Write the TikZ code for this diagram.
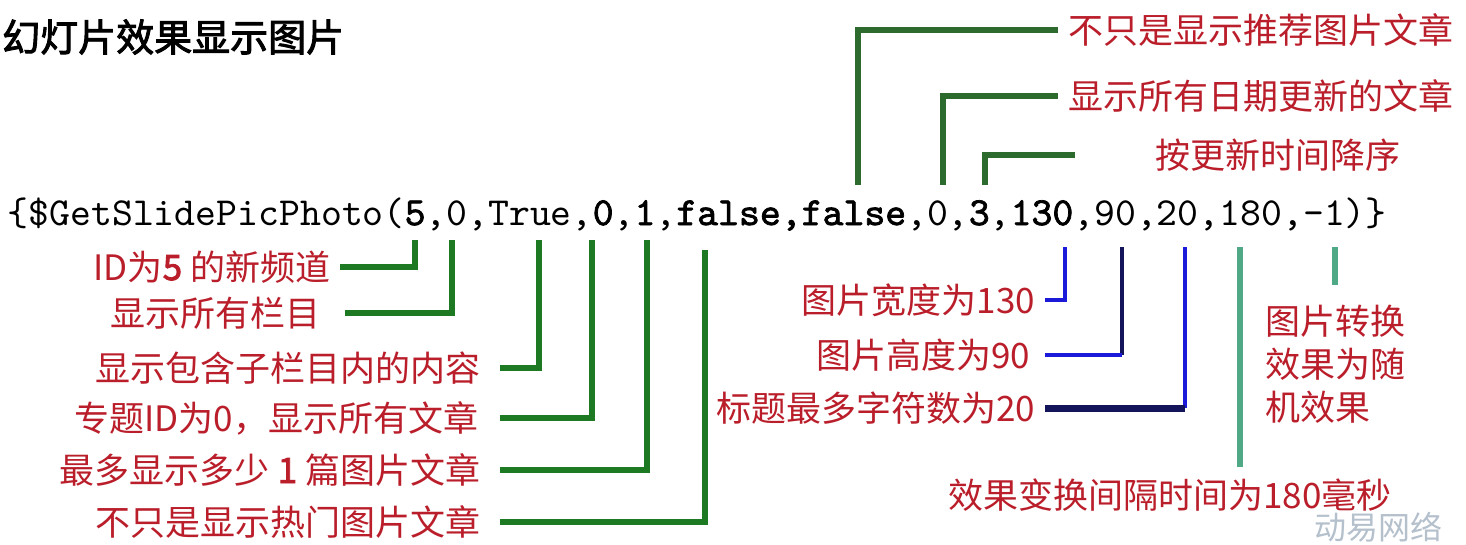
\documentclass[tikz,border=0pt]{standalone}
\usepackage{fontspec}
\newfontfamily\codefont{lmmono10-regular}[Extension=.otf]
\newfontfamily\codebold{lmmono10-regular}[Extension=.otf, FakeBold=1.8]
\newfontfamily\cjk{Noto Sans CJK SC}
\newfontfamily\cjkbold[FakeBold=2.5]{Noto Sans CJK SC}
\definecolor{lblred}{HTML}{BA1E2A}
\definecolor{gbot}{HTML}{1E7A22}
\definecolor{gtop}{HTML}{2C6A2E}
\definecolor{lblue}{HTML}{1A1AD8}
\definecolor{lnavy}{HTML}{14145A}
\definecolor{lteal}{HTML}{4FA886}
\definecolor{wmark}{HTML}{B4C0CC}
\tikzset{
  lbl/.style={inner sep=0pt, text=lblred, font=\cjk\fontsize{35}{43}\selectfont, text height=29pt, text depth=3pt},
  gline/.style={draw=gbot, line width=5.5pt},
  tline/.style={draw=gtop, line width=5.5pt},
  bline/.style={draw=lblue, line width=3.5pt},
  nline/.style={draw=lnavy, line width=5pt},
  teline/.style={draw=lteal, line width=5.5pt}
}
\begin{document}
\begin{tikzpicture}[x=1pt,y=-1pt]
\useasboundingbox[fill=white] (0,0) rectangle (1466,544);

% title
\node[anchor=west, inner sep=0pt, font=\cjkbold\fontsize{38}{40}\selectfont] (title) at (2,37) {幻灯片效果显示图片};

% code line
\node[anchor=west, inner sep=0pt, font=\codefont\fontsize{39.8}{44}\selectfont] (code) at (7.5,214)
  {\{\$GetSlidePicPhoto({\codebold 5},0,True,{\codebold 0},{\codebold 1},{\codebold false,false},0,{\codebold 3},{\codebold 130},90,20,180,-1)\}};

% attachment points under/above the parameters
\coordinate (p5) at (415,240);
\coordinate (p0a) at (452,240);
\coordinate (ptrue) at (539,240);
\coordinate (p0b) at (592,240);
\coordinate (p1) at (647,240);
\coordinate (pfa) at (705,250);
\coordinate (pfb) at (858,185);
\coordinate (p0c) at (943,185);
\coordinate (p3) at (985,185);
\coordinate (p130) at (1065,247);
\coordinate (p90) at (1122,247);
\coordinate (p20) at (1185,247);
\coordinate (p180) at (1240,247);
\coordinate (pm1) at (1335,247);

% bottom-left labels
\node[lbl, anchor=east, outer xsep=10pt] (l1) at (340,267) {ID为{\cjkbold 5} 的新频道};
\node[lbl, anchor=east, outer xsep=25pt] (l2) at (345,313) {显示所有栏目};
\node[lbl, anchor=east, outer xsep=20pt] (l3) at (500,368) {显示包含子栏目内的内容};
\node[lbl, anchor=east, outer xsep=22pt] (l4) at (500,418) {专题ID为0，显示所有文章};
\node[lbl, anchor=east, outer xsep=20pt] (l5) at (500,470) {最多显示多少 {\cjkbold 1} 篇图片文章};
\node[lbl, anchor=east, outer xsep=20pt] (l6) at (500,522) {不只是显示热门图片文章};

% top labels
\node[lbl, anchor=west, outer xsep=10pt] (l7) at (1058,30) {不只是显示推荐图片文章};
\node[lbl, anchor=west, outer xsep=10pt] (l8) at (1058,96) {显示所有日期更新的文章};
\node[lbl, anchor=west, outer xsep=80pt] (l9) at (1075,155) {按更新时间降序};

% bottom-right labels
\node[lbl, anchor=east, outer xsep=10pt] (l10) at (1045,300) {图片宽度为130};
\node[lbl, anchor=east, outer xsep=15pt] (l11) at (1045,355) {图片高度为90};
\node[lbl, anchor=east, outer xsep=10pt] (l12) at (1045,408) {标题最多字符数为20};
\node[lbl, outer ysep=12pt] (l13) at (1170,495) {效果变换间隔时间为180毫秒};
\node[lbl, anchor=north, align=left, outer ysep=20pt, text height=, text depth=] (l14) at (1335,285) {图片转换\\效果为随\\机效果};

% watermark
\node[inner sep=0pt, text=wmark, font=\cjk\fontsize{32}{34}\selectfont] (wm) at (1378,527) {动易网络};

% connectors
\draw[gline] (p5) |- (l1.east);
\draw[gline] (p0a) |- (l2.east);
\draw[gline] (ptrue) |- (l3.east);
\draw[gline] (p0b) |- (l4.east);
\draw[gline] (p1) |- (l5.east);
\draw[gline] (pfa) |- (l6.east);

\draw[tline] (pfb) |- (l7.west);
\draw[tline] (p0c) |- (l8.west);
\draw[tline] (p3) |- (l9.west);

\draw[bline] (p130) |- (l10.east);
\draw[nline, line width=4.5pt] (p90) -- (p90 |- l11.east);
\draw[bline] (p90 |- l11.east) -- (l11.east);
\draw[bline] (p20) -- (p20 |- l12.east);
\draw[nline, line width=7pt] (p20 |- l12.east) -- (l12.east);
\draw[teline] (p180) -- (p180 |- l13.north);
\draw[teline] (pm1) -- (l14.north);
\end{tikzpicture}
\end{document}
